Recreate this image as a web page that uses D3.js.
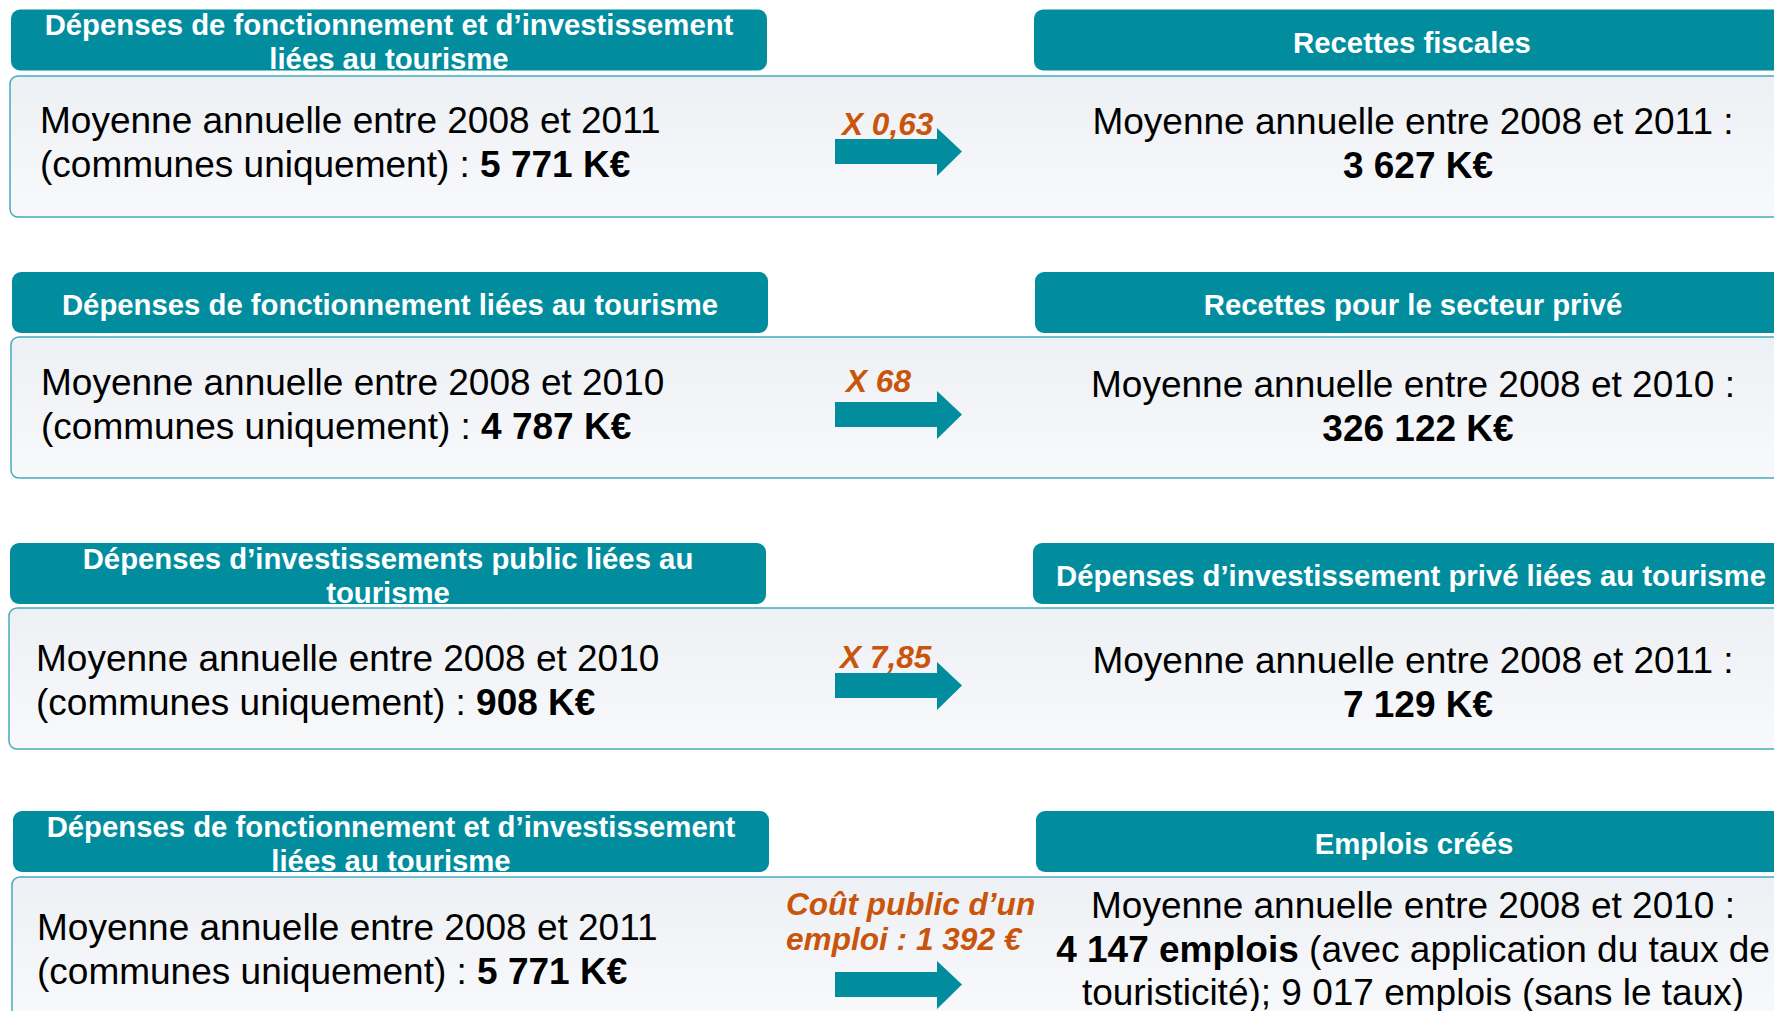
<!DOCTYPE html>
<html lang="fr">
<head>
  <meta charset="UTF-8" />
  <title>Dépenses et retombées du tourisme</title>
  <style>
    body { margin: 0; background: #fff; }
    svg { display: block; font-family: "Liberation Sans", Arial, Helvetica, sans-serif; }
    .head { font-weight: bold; fill: #fff; font-size: 29.3px; }
    .body { font-size: 37px; fill: #000; }
    .ratio { font-weight: bold; font-style: italic; fill: #c9550c; font-size: 31.6px; }
  </style>
</head>
<body>
<svg id="chart" width="1774" height="1011"></svg>
<script src="https://cdnjs.cloudflare.com/ajax/libs/d3/7.8.5/d3.min.js"></script>
<script>
  // --- data ---
  const leftHeaders = [
    ["Dépenses de fonctionnement et d’investissement", "liées au tourisme"],
    ["Dépenses de fonctionnement liées au tourisme"],
    ["Dépenses d’investissements public liées au", "tourisme"],
    ["Dépenses de fonctionnement et d’investissement", "liées au tourisme"]
  ];
  const leftPeriods = [
    "Moyenne annuelle entre 2008 et 2011",
    "Moyenne annuelle entre 2008 et 2010",
    "Moyenne annuelle entre 2008 et 2010",
    "Moyenne annuelle entre 2008 et 2011"
  ];
  const leftScope = "(communes uniquement) : ";
  const leftValues = ["5 771 K€", "4 787 K€", "908 K€", "5 771 K€"];

  const rightHeaders = [
    ["Recettes fiscales"],
    ["Recettes pour le secteur privé"],
    ["Dépenses d’investissement privé liées au tourisme"],
    ["Emplois créés"]
  ];
  const rightPeriods = [
    "Moyenne annuelle entre 2008 et 2011 :",
    "Moyenne annuelle entre 2008 et 2010 :",
    "Moyenne annuelle entre 2008 et 2011 :",
    "Moyenne annuelle entre 2008 et 2010 :"
  ];
  const rightValues = ["3 627 K€", "326 122 K€", "7 129 K€", "4 147 emplois"];
  const rightNotes = [[], [], [], [" (avec application du taux de", "touristicité); 9 017 emplois (sans le taux)"]];

  const ratioLabels = [["X 0,63"], ["X 68"], ["X 7,85"], ["Coût public d’un", "emploi : 1 392 €"]];

  // --- layout ---
  const teal = "#028d9f";
  const rows = d3.range(leftHeaders.length);
  const headTop = d3.scaleOrdinal(rows, [9.5, 272, 543, 811]);
  const boxTop = d3.scaleOrdinal(rows, [76, 337, 608, 877]);
  const leftX = d3.scaleOrdinal(rows, [11, 12, 10, 13]);
  const rightX = d3.scaleOrdinal(rows, [1034, 1035, 1033, 1036]);
  const textLeftX = d3.scaleOrdinal(rows, [40, 41, 36, 37]);
  const leftBase = d3.scaleOrdinal(rows, [133, 395, 671, 940]);
  const rightBase = d3.scaleOrdinal(rows, [134, 397, 673, 918]);
  const arrowTop = d3.scaleOrdinal(rows, [139, 402, 673, 972]);
  const ratioBase = d3.scaleOrdinal(rows, [135, 392, 668, 915]);
  const ratioX = d3.scaleOrdinal(rows, [842, 846, 840, 786]);
  const headW = 756, headH = 61, boxH = 141, lineH = 43.5, headLineH = 34;
  const rightCenter = 1413;

  const svg = d3.select("#chart");

  const grad = svg.append("defs").append("linearGradient")
    .attr("id", "boxFill").attr("x1", 0).attr("y1", 0).attr("x2", 0).attr("y2", 1);
  grad.append("stop").attr("offset", "0%").attr("stop-color", "#edf0f4");
  grad.append("stop").attr("offset", "100%").attr("stop-color", "#f8f9fb");

  const row = svg.selectAll("g.row").data(rows).join("g").attr("class", "row");

  // body boxes (run off the right edge)
  row.append("rect")
    .attr("x", i => leftX(i) - 1)
    .attr("y", i => boxTop(i))
    .attr("width", 1820)
    .attr("height", boxH)
    .attr("rx", 8)
    .attr("fill", "url(#boxFill)")
    .attr("stroke", "#46aabb")
    .attr("stroke-width", 1.5);

  // header bars
  row.append("rect")
    .attr("x", i => leftX(i)).attr("y", i => headTop(i))
    .attr("width", headW).attr("height", headH).attr("rx", 9)
    .attr("fill", teal);
  row.append("rect")
    .attr("x", i => rightX(i)).attr("y", i => headTop(i))
    .attr("width", headW).attr("height", headH).attr("rx", 9)
    .attr("fill", teal);

  function headText(sel, xFn, labels) {
    sel.append("text")
      .attr("class", "head")
      .attr("text-anchor", "middle")
      .each(function(i) {
        const lines = labels[i];
        const y0 = lines.length > 1 ? headTop(i) + 25.5 : headTop(i) + 43;
        d3.select(this).selectAll("tspan").data(lines).join("tspan")
          .attr("x", xFn(i) + headW / 2)
          .attr("y", (d, k) => y0 + k * headLineH)
          .text(d => d);
      });
  }
  headText(row, leftX, leftHeaders);
  headText(row, rightX, rightHeaders);

  // mixed regular / bold lines
  function richLine(g, segs, x, y, anchor) {
    const t = g.append("text").attr("class", "body").attr("x", x).attr("y", y).attr("text-anchor", anchor);
    segs.forEach(s => t.append("tspan").attr("font-weight", s.b ? "bold" : null).text(s.t));
  }

  row.each(function(i) {
    const g = d3.select(this);
    const left = [[{ t: leftPeriods[i] }], [{ t: leftScope }, { t: leftValues[i], b: true }]];
    left.forEach((segs, k) => richLine(g, segs, textLeftX(i), leftBase(i) + k * lineH, "start"));

    const notes = rightNotes[i];
    if (notes.length) {
      const right = [[{ t: rightPeriods[i] }], [{ t: rightValues[i], b: true }, { t: notes[0] }], [{ t: notes[1] }]];
      right.forEach((segs, k) => richLine(g, segs, rightCenter, rightBase(i) + k * lineH, "middle"));
    } else {
      richLine(g, [{ t: rightPeriods[i] }], rightCenter, rightBase(i), "middle");
      richLine(g, [{ t: rightValues[i], b: true }], rightCenter + 5, rightBase(i) + lineH, "middle");
    }
  });

  // arrows
  const arrowShape = d3.line();
  row.append("path")
    .attr("d", i => {
      const x0 = 835, x1 = 937, tip = 962, y0 = arrowTop(i), h = 25;
      return arrowShape([
        [x0, y0], [x1, y0], [x1, y0 - 11], [tip, y0 + h / 2],
        [x1, y0 + h + 12], [x1, y0 + h], [x0, y0 + h]
      ]) + "Z";
    })
    .attr("fill", teal);

  // ratio labels
  row.append("text")
    .attr("class", "ratio")
    .each(function(i) {
      d3.select(this).selectAll("tspan").data(ratioLabels[i]).join("tspan")
        .attr("x", ratioX(i))
        .attr("y", (d, k) => ratioBase(i) + k * 35)
        .text(d => d);
    });
</script>
</body>
</html>
